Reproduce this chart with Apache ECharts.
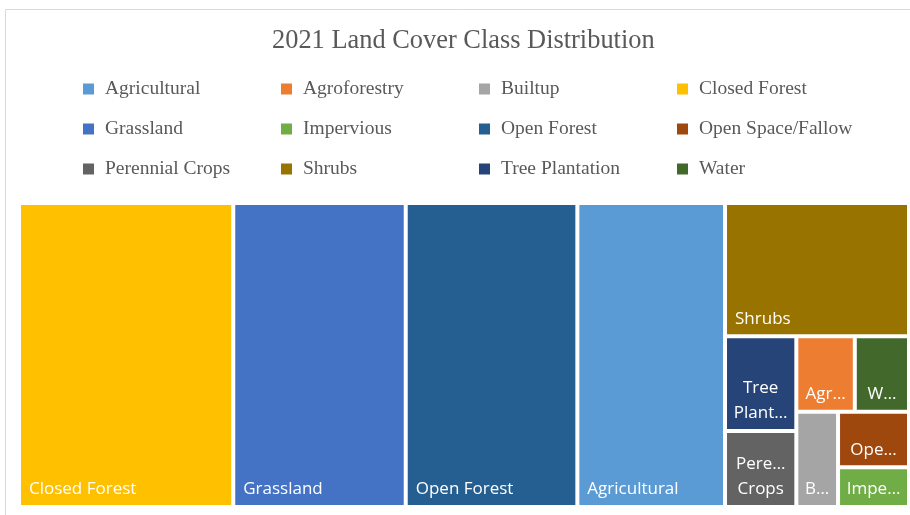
<!DOCTYPE html>
<html>
<head>
<meta charset="utf-8">
<script src="https://cdn.jsdelivr.net/npm/echarts@6/dist/echarts.min.js"></script>
<style>
  html, body { margin: 0; padding: 0; background: #ffffff; }
  #chart { width: 910px; height: 515px; }
</style>
</head>
<body>
<div id="chart"></div>
<script>
// ---- data ----
const chartTitle = '2021 Land Cover Class Distribution';
const categories = ['Agricultural', 'Agroforestry', 'Builtup', 'Closed Forest', 'Grassland', 'Impervious',
                    'Open Forest', 'Open Space/Fallow', 'Perennial Crops', 'Shrubs', 'Tree Plantation', 'Water'];
// share of total area (%)
const values = [16.59, 1.63, 1.47, 24.07, 19.38, 1.04, 19.28, 1.46, 2.00, 9.06, 2.50, 1.51];

// ---- styles ----
const palette = ['#5B9BD5', '#ED7D31', '#A5A5A5', '#FFC000', '#4472C4', '#70AD47',
                 '#255E91', '#9E480E', '#636363', '#997300', '#264478', '#43682B'];
// label side padding for the narrow cells (controls truncation width)
const smallLabelPad = 5.5;
const labelPadOverride = { 'Builtup': 2 };

function labelFor(name, v) {
  if (v >= 5) {
    return { position: 'insideBottomLeft', distance: 3, padding: [0, 5, 0, 5] };
  }
  const p = (name in labelPadOverride) ? labelPadOverride[name] : smallLabelPad;
  return { position: 'insideBottom', distance: 3, padding: [0, p, 0, p] };
}

const treeData = categories.map((name, i) => ({
  name: name,
  value: values[i],
  itemStyle: { color: palette[i] },
  label: labelFor(name, values[i])
}));

// legend columns (Excel lays the legend out row by row, 4 per row)
const nCols = 4;
const legendCols = [];
for (let c = 0; c < nCols; c++) {
  legendCols.push(categories.filter((_, i) => i % nCols === c));
}
const legendLeft = [83, 281, 479, 677];

const legends = legendCols.map((names, c) => ({
  show: true,
  orient: 'vertical',
  left: legendLeft[c],
  top: 79,
  padding: 0,
  itemGap: 20,
  itemWidth: 11,
  itemHeight: 11,
  icon: 'rect',
  selectedMode: false,
  data: names,
  textStyle: {
    fontFamily: 'Liberation Serif',
    fontSize: 19.5,
    color: '#595959',
    lineHeight: 20,
    padding: [0, 0, 0, 6]
  }
}));

// empty series that only feed the legend swatches
const legendSeries = categories.map((name, i) => ({
  type: 'bar',
  name: name,
  data: [],
  itemStyle: { color: palette[i] }
}));

const chart = echarts.init(document.getElementById('chart'), null, { renderer: 'canvas' });
chart.setOption({
  animation: false,
  backgroundColor: '#ffffff',
  title: {
    text: chartTitle,
    left: 272,
    top: 28,
    padding: 0,
    textStyle: {
      fontFamily: 'Liberation Serif',
      fontSize: 26.4,
      fontWeight: 'normal',
      color: '#595959'
    }
  },
  graphic: [{
    type: 'rect',
    silent: true,
    z: -10,
    shape: { x: 5.5, y: 9.5, width: 1000, height: 1000 },
    style: { fill: 'none', stroke: '#D9D9D9', lineWidth: 1 }
  }],
  legend: legends,
  grid: { left: 0, top: 0, width: 1, height: 1, show: false },
  xAxis: { type: 'category', show: false, data: [] },
  yAxis: { type: 'value', show: false },
  series: legendSeries.concat([{
    type: 'treemap',
    name: 'Land Cover',
    left: 21,
    top: 205,
    width: 886,
    height: 300,
    roam: false,
    nodeClick: false,
    squareRatio: 0.8,
    sort: 'desc',
    breadcrumb: { show: false },
    itemStyle: { gapWidth: 4, borderWidth: 0 },
    label: {
      show: true,
      color: '#ffffff',
      fontFamily: 'Open Sans',
      fontSize: 17,
      lineHeight: 25,
      overflow: 'truncate',
      ellipsis: '…',
      formatter: function (p) {
        return (p.value >= 1.9 && p.value < 5) ? p.name.split(' ').join('\n') : p.name;
      }
    },
    upperLabel: { show: false },
    emphasis: { disabled: true },
    data: treeData
  }])
});
</script>
</body>
</html>
